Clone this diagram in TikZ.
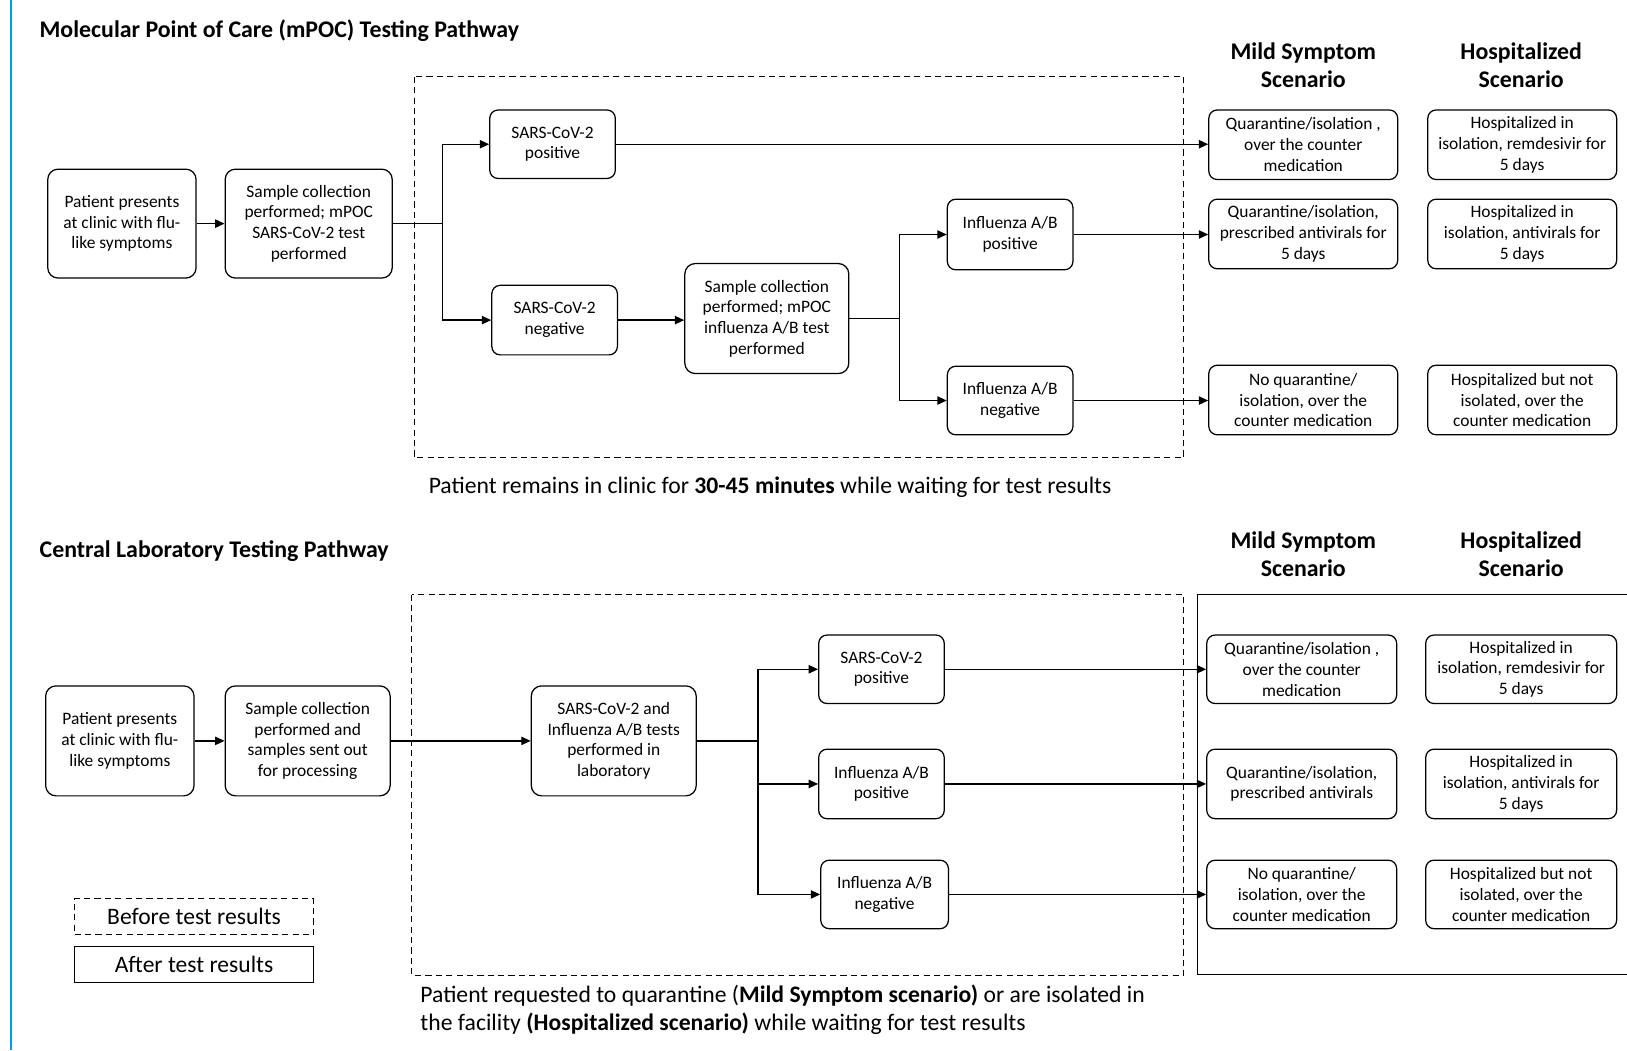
\documentclass[tikz,border=0pt]{standalone}
\usepackage{fontspec}
\setmainfont{Carlito}
\usetikzlibrary{arrows.meta,calc}
\definecolor{edgeblue}{RGB}{0,160,227}
\tikzset{
  box/.style={draw, rounded corners=10pt, line width=1.2pt, align=center, inner sep=0pt,
    font=\fontsize{16.8}{20}\selectfont},
  sbox/.style={box, rounded corners=8pt},
  arr/.style={line width=1.2pt, -{Triangle[length=9pt,width=8pt]}},
  ln/.style={line width=1.2pt},
  dashbox/.style={line width=1pt, dash pattern=on 6pt off 4pt},
  ttl/.style={font=\fontsize{23}{26}\selectfont\bfseries, anchor=west, inner sep=0pt},
  hdr/.style={font=\fontsize{23}{27}\selectfont\bfseries, align=center, inner sep=0pt},
  captxt/.style={font=\fontsize{22.8}{27}\selectfont, inner sep=0pt},
  leg/.style={draw, line width=1pt, minimum width=230pt, minimum height=35pt, inner sep=0pt,
    font=\fontsize{22.7}{24}\selectfont}
}
\begin{document}
\begin{tikzpicture}[x=1pt,y=-1pt]
\useasboundingbox (0,0) rectangle (1568,1012);
\fill[white] (0,0) rectangle (1568,1012);
\draw[edgeblue, line width=2pt] (11,0) -- (11,1012);

% ---------- top section ----------
\node[ttl] (t1) at (38,30) {Molecular Point of Care (mPOC) Testing Pathway};
\node[hdr] (hm1) at (1256,62.5) {Mild Symptom\\Scenario};
\node[hdr] (hh1) at (1466,62.5) {Hospitalized\\Scenario};

\draw[dashbox] (399,74) rectangle (1141,441);

\node[box, minimum width=143pt, minimum height=105pt] (P1) at (117.5,215.5) {Patient presents\\at clinic with flu-\\like symptoms};
\node[box, minimum width=161pt, minimum height=105pt] (S1) at (297.5,215.5) {Sample collection\\performed; mPOC\\SARS-CoV-2 test\\performed};
\node[sbox, minimum width=121pt, minimum height=66pt] (Pos) at (532.5,139) {SARS-CoV-2\\positive};
\node[sbox, minimum width=121pt, minimum height=67pt] (Neg) at (534.5,308.5) {SARS-CoV-2\\negative};
\node[box, minimum width=158pt, minimum height=106pt] (S2) at (739,307) {Sample collection\\performed; mPOC\\influenza A/B test\\performed};
\node[sbox, minimum width=121pt, minimum height=68pt] (FP) at (973.5,226) {Influenza A/B\\positive};
\node[sbox, minimum width=121pt, minimum height=66pt] (FN) at (973.5,386) {Influenza A/B\\negative};
\node[sbox, minimum width=182pt, minimum height=67pt] (M1) at (1256,139.5) {Quarantine/isolation ,\\over the counter\\medication};
\node[sbox, minimum width=182pt, minimum height=67pt] (M2) at (1256,225.5) {Quarantine/isolation,\\prescribed antivirals for\\5 days};
\node[sbox, minimum width=182pt, minimum height=67pt] (M3) at (1256,385.5) {No quarantine/\\isolation, over the\\counter medication};
\node[sbox, minimum width=182pt, minimum height=67pt] (H1) at (1467,139.5) {Hospitalized in\\isolation, remdesivir for\\5 days};
\node[sbox, minimum width=182pt, minimum height=67pt] (H2) at (1467,225.5) {Hospitalized in\\isolation, antivirals for\\5 days};
\node[sbox, minimum width=182pt, minimum height=67pt] (H3) at (1467,385.5) {Hospitalized but not\\isolated, over the\\counter medication};

\coordinate (j1) at ($(S1.east)+(48,0)$);
\coordinate (j2) at ($(S2.east)+(48,0)$);
\draw[arr] (P1) -- (S1);
\draw[ln] (S1.east) -- (j1);
\draw[arr] (j1) |- (Pos.west);
\draw[arr] (j1) |- (Neg.west);
\draw[arr] (Neg.east) -- (Neg.east -| S2.west);
\draw[ln] (S2.east) -- (j2);
\draw[arr] (j2) |- (FP.west);
\draw[arr] (j2) |- (FN.west);
\draw[arr] (Pos.east) -- (Pos.east -| M1.west);
\draw[arr] (FP.east) -- (FP.east -| M2.west);
\draw[arr] (FN.east) -- (FN.east -| M3.west);

\node[captxt, anchor=west] (c1) at (413,470) {Patient remains in clinic for \textbf{30-45 minutes} while waiting for test results};

% ---------- bottom section ----------
\node[ttl] (t2) at (38,531) {Central Laboratory Testing Pathway};
\node[hdr] (hm2) at (1256,534.5) {Mild Symptom\\Scenario};
\node[hdr] (hh2) at (1466,534.5) {Hospitalized\\Scenario};

\draw[dashbox] (397,573) rectangle (1141,940);
\draw[line width=1.2pt] (1570,573) -| (1154,939) -- (1570,939);

\node[box, minimum width=143pt, minimum height=106pt] (P1b) at (115.5,714) {Patient presents\\at clinic with flu-\\like symptoms};
\node[box, minimum width=159pt, minimum height=106pt] (S1b) at (296.5,714) {Sample collection\\performed and\\samples sent out\\for processing};
\node[box, minimum width=159pt, minimum height=106pt] (Lab) at (591.5,714) {SARS-CoV-2 and\\Influenza A/B tests\\performed in\\laboratory};
\node[sbox, minimum width=121pt, minimum height=66pt] (CP) at (849.5,645) {SARS-CoV-2\\positive};
\node[sbox, minimum width=121pt, minimum height=67pt] (FPb) at (849.5,755.5) {Influenza A/B\\positive};
\node[sbox, minimum width=123pt, minimum height=66pt] (FNb) at (852.5,862) {Influenza A/B\\negative};
\node[sbox, minimum width=183pt, minimum height=66pt] (M1b) at (1254.5,645) {Quarantine/isolation ,\\over the counter\\medication};
\node[sbox, minimum width=183pt, minimum height=67pt] (M2b) at (1254.5,755.5) {Quarantine/isolation,\\prescribed antivirals};
\node[sbox, minimum width=183pt, minimum height=66pt] (M3b) at (1254.5,862) {No quarantine/\\isolation, over the\\counter medication};
\node[sbox, minimum width=184pt, minimum height=66pt] (H1b) at (1466,645) {Hospitalized in\\isolation, remdesivir for\\5 days};
\node[sbox, minimum width=184pt, minimum height=67pt] (H2b) at (1466,755.5) {Hospitalized in\\isolation, antivirals for\\5 days};
\node[sbox, minimum width=184pt, minimum height=66pt] (H3b) at (1466,862) {Hospitalized but not\\isolated, over the\\counter medication};

\coordinate (j3) at ($(Lab.east)+(59,0)$);
\draw[arr] (P1b) -- (S1b);
\draw[arr] (S1b) -- (Lab);
\draw[ln] (Lab.east) -- (j3);
\draw[arr] (j3) |- (CP.west);
\draw[arr] (j3) |- (FPb.west);
\draw[arr] (j3) |- (FNb.west);
\draw[arr] (CP.east) -- (CP.east -| M1b.west);
\draw[arr] (FPb.east) -- (FPb.east -| M2b.west);
\draw[arr] (FNb.east) -- (FNb.east -| M3b.west);

\node[captxt, anchor=west, align=left] (c2) at (405,973.5) {Patient requested to quarantine (\textbf{Mild Symptom scenario)} or are isolated in\\the facility \textbf{(Hospitalized scenario)} while waiting for test results};

% ---------- legend ----------
\node[leg, dashbox] (lb) at (187,883.5) {Before test results};
\node[leg] (la) at (187,929.5) {After test results};
\end{tikzpicture}
\end{document}
